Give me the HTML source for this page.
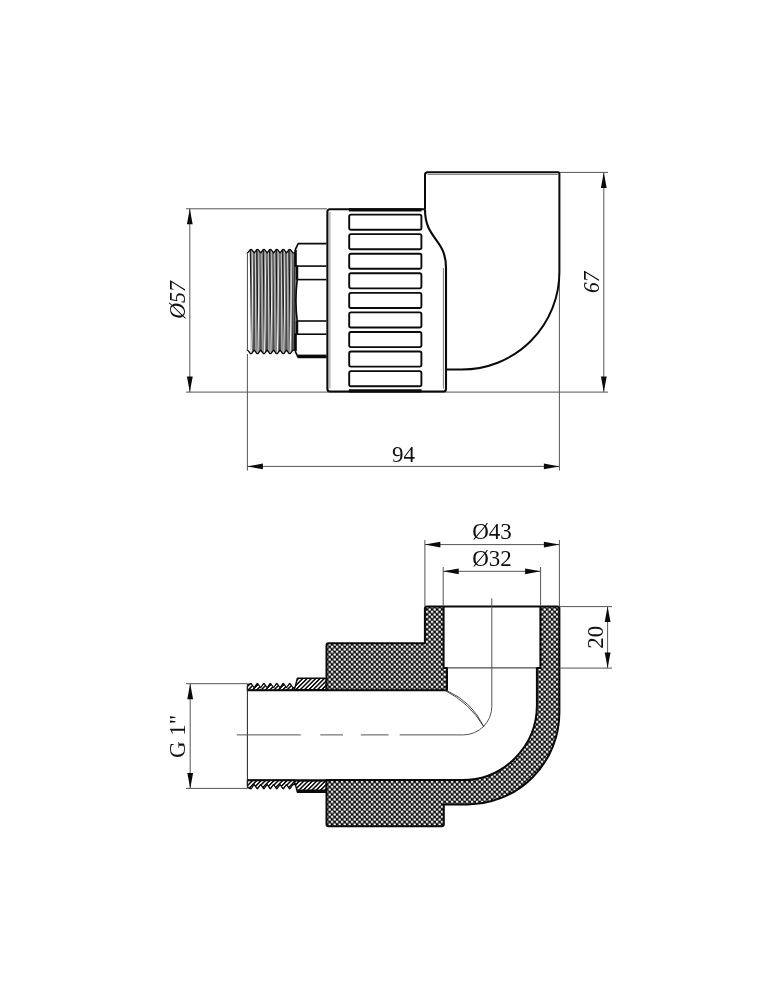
<!DOCTYPE html>
<html><head><meta charset="utf-8"><title>drawing</title>
<style>
html,body{margin:0;padding:0;background:#fff;}
body{width:771px;height:1000px;overflow:hidden;}
svg{display:block;will-change:transform;}
text{font-family:"Liberation Serif",serif;fill:#111;}
</style></head><body>
<svg width="771" height="1000" viewBox="0 0 771 1000">
<rect width="771" height="1000" fill="#fff"/>
<line x1="186" y1="208.8" x2="327" y2="208.8" stroke="#555" stroke-width="1.0" />
<line x1="186" y1="392.1" x2="608" y2="392.1" stroke="#555" stroke-width="1.0" />
<line x1="189.8" y1="208.8" x2="189.8" y2="392.1" stroke="#555" stroke-width="1.0" />
<polygon points="189.8,208.8 192.70,224.30 186.90,224.30" fill="#0a0a0a"/>
<polygon points="189.8,392.1 186.90,376.60 192.70,376.60" fill="#0a0a0a"/>
<text x="0" y="0" font-size="23" text-anchor="middle" font-style="italic" transform="translate(185.0 300) rotate(-90) scale(0.95 1)">Ø57</text>
<line x1="559.4" y1="172.4" x2="608" y2="172.4" stroke="#555" stroke-width="1.0" />
<line x1="603.8" y1="172.4" x2="603.8" y2="392.1" stroke="#555" stroke-width="1.0" />
<polygon points="603.8,172.4 606.70,187.90 600.90,187.90" fill="#0a0a0a"/>
<polygon points="603.8,392.1 600.90,376.60 606.70,376.60" fill="#0a0a0a"/>
<text x="0" y="0" font-size="23" text-anchor="middle" font-style="italic" transform="translate(598.8 282.3) rotate(-90) scale(0.93 1)">67</text>
<line x1="247.4" y1="354" x2="247.4" y2="470.5" stroke="#555" stroke-width="1.0" />
<line x1="559.4" y1="273" x2="559.4" y2="470.5" stroke="#555" stroke-width="1.0" />
<line x1="247.4" y1="466.4" x2="559.4" y2="466.4" stroke="#555" stroke-width="1.0" />
<polygon points="247.4,466.4 262.90,463.50 262.90,469.30" fill="#0a0a0a"/>
<polygon points="559.4,466.4 543.90,469.30 543.90,463.50" fill="#0a0a0a"/>
<text x="0" y="0" font-size="23" text-anchor="middle"  transform="translate(403.4 461.7)">94</text>
<path d="M247.3,349.9 L247.3,253.1 L249.5,250.7 L250.10,249.8 Q251.00,248.9 251.90,249.8 L254.30,252.9 L256.55,249.8 Q257.45,248.9 258.35,249.8 L260.75,252.9 L263.00,249.8 Q263.90,248.9 264.80,249.8 L267.20,252.9 L269.45,249.8 Q270.35,248.9 271.25,249.8 L273.65,252.9 L275.90,249.8 Q276.80,248.9 277.70,249.8 L280.10,252.9 L282.35,249.8 Q283.25,248.9 284.15,249.8 L286.55,252.9 L288.80,249.8 Q289.70,248.9 290.60,249.8 L293.00,252.9 L294.9,252.9 L294.9,350.1 L293.00,350.1 L290.60,353.2 Q289.70,354.1 288.80,353.2 L286.55,350.1 L284.15,353.2 Q283.25,354.1 282.35,353.2 L280.10,350.1 L277.70,353.2 Q276.80,354.1 275.90,353.2 L273.65,350.1 L271.25,353.2 Q270.35,354.1 269.45,353.2 L267.20,350.1 L264.80,353.2 Q263.90,354.1 263.00,353.2 L260.75,350.1 L258.35,353.2 Q257.45,354.1 256.55,353.2 L254.30,350.1 L251.90,353.2 Q251.00,354.1 250.10,353.2 L249.5,352.3 Z" fill="#909090" stroke="none"/>
<clipPath id="thc"><path d="M247.3,349.9 L247.3,253.1 L249.5,250.7 L250.10,249.8 Q251.00,248.9 251.90,249.8 L254.30,252.9 L256.55,249.8 Q257.45,248.9 258.35,249.8 L260.75,252.9 L263.00,249.8 Q263.90,248.9 264.80,249.8 L267.20,252.9 L269.45,249.8 Q270.35,248.9 271.25,249.8 L273.65,252.9 L275.90,249.8 Q276.80,248.9 277.70,249.8 L280.10,252.9 L282.35,249.8 Q283.25,248.9 284.15,249.8 L286.55,252.9 L288.80,249.8 Q289.70,248.9 290.60,249.8 L293.00,252.9 L294.9,252.9 L294.9,350.1 L293.00,350.1 L290.60,353.2 Q289.70,354.1 288.80,353.2 L286.55,350.1 L284.15,353.2 Q283.25,354.1 282.35,353.2 L280.10,350.1 L277.70,353.2 Q276.80,354.1 275.90,353.2 L273.65,350.1 L271.25,353.2 Q270.35,354.1 269.45,353.2 L267.20,350.1 L264.80,353.2 Q263.90,354.1 263.00,353.2 L260.75,350.1 L258.35,353.2 Q257.45,354.1 256.55,353.2 L254.30,350.1 L251.90,353.2 Q251.00,354.1 250.10,353.2 L249.5,352.3 Z"/></clipPath>
<g clip-path="url(#thc)">
<rect x="247.3" y="249.5" width="3.4" height="104.0" fill="#fff"/>
<line x1="250.3" y1="249.5" x2="251.9" y2="353.5" stroke="#1c1c1c" stroke-width="1.2" />
<line x1="252.9" y1="249.5" x2="251.6" y2="353.5" stroke="#f4f4f4" stroke-width="1.0" />
<line x1="253.2" y1="249.5" x2="254.8" y2="353.5" stroke="#4a4a4a" stroke-width="0.9" />
<line x1="255.0" y1="249.5" x2="253.6" y2="353.5" stroke="#333" stroke-width="0.9" />
<line x1="255.3" y1="249.5" x2="256.2" y2="353.5" stroke="#dcdcdc" stroke-width="0.9" />
<line x1="257.0" y1="249.5" x2="256.2" y2="353.5" stroke="#666" stroke-width="0.7" />
<line x1="256.75" y1="249.5" x2="258.34999999999997" y2="353.5" stroke="#1c1c1c" stroke-width="1.2" />
<line x1="259.34999999999997" y1="249.5" x2="258.05" y2="353.5" stroke="#f4f4f4" stroke-width="1.0" />
<line x1="259.65" y1="249.5" x2="261.25" y2="353.5" stroke="#4a4a4a" stroke-width="0.9" />
<line x1="261.45" y1="249.5" x2="260.05" y2="353.5" stroke="#333" stroke-width="0.9" />
<line x1="261.75" y1="249.5" x2="262.65" y2="353.5" stroke="#dcdcdc" stroke-width="0.9" />
<line x1="263.45" y1="249.5" x2="262.65" y2="353.5" stroke="#666" stroke-width="0.7" />
<line x1="263.2" y1="249.5" x2="264.79999999999995" y2="353.5" stroke="#1c1c1c" stroke-width="1.2" />
<line x1="265.79999999999995" y1="249.5" x2="264.5" y2="353.5" stroke="#f4f4f4" stroke-width="1.0" />
<line x1="266.09999999999997" y1="249.5" x2="267.7" y2="353.5" stroke="#4a4a4a" stroke-width="0.9" />
<line x1="267.9" y1="249.5" x2="266.5" y2="353.5" stroke="#333" stroke-width="0.9" />
<line x1="268.2" y1="249.5" x2="269.09999999999997" y2="353.5" stroke="#dcdcdc" stroke-width="0.9" />
<line x1="269.9" y1="249.5" x2="269.09999999999997" y2="353.5" stroke="#666" stroke-width="0.7" />
<line x1="269.65000000000003" y1="249.5" x2="271.25" y2="353.5" stroke="#1c1c1c" stroke-width="1.2" />
<line x1="272.25" y1="249.5" x2="270.95000000000005" y2="353.5" stroke="#f4f4f4" stroke-width="1.0" />
<line x1="272.55" y1="249.5" x2="274.15000000000003" y2="353.5" stroke="#4a4a4a" stroke-width="0.9" />
<line x1="274.35" y1="249.5" x2="272.95000000000005" y2="353.5" stroke="#333" stroke-width="0.9" />
<line x1="274.65000000000003" y1="249.5" x2="275.55" y2="353.5" stroke="#dcdcdc" stroke-width="0.9" />
<line x1="276.35" y1="249.5" x2="275.55" y2="353.5" stroke="#666" stroke-width="0.7" />
<line x1="276.1" y1="249.5" x2="277.7" y2="353.5" stroke="#1c1c1c" stroke-width="1.2" />
<line x1="278.7" y1="249.5" x2="277.40000000000003" y2="353.5" stroke="#f4f4f4" stroke-width="1.0" />
<line x1="279.0" y1="249.5" x2="280.6" y2="353.5" stroke="#4a4a4a" stroke-width="0.9" />
<line x1="280.8" y1="249.5" x2="279.40000000000003" y2="353.5" stroke="#333" stroke-width="0.9" />
<line x1="281.1" y1="249.5" x2="282.0" y2="353.5" stroke="#dcdcdc" stroke-width="0.9" />
<line x1="282.8" y1="249.5" x2="282.0" y2="353.5" stroke="#666" stroke-width="0.7" />
<line x1="282.55" y1="249.5" x2="284.15" y2="353.5" stroke="#1c1c1c" stroke-width="1.2" />
<line x1="285.15" y1="249.5" x2="283.85" y2="353.5" stroke="#f4f4f4" stroke-width="1.0" />
<line x1="285.45" y1="249.5" x2="287.05" y2="353.5" stroke="#4a4a4a" stroke-width="0.9" />
<line x1="287.25" y1="249.5" x2="285.85" y2="353.5" stroke="#333" stroke-width="0.9" />
<line x1="287.55" y1="249.5" x2="288.45" y2="353.5" stroke="#dcdcdc" stroke-width="0.9" />
<line x1="289.25" y1="249.5" x2="288.45" y2="353.5" stroke="#666" stroke-width="0.7" />
<line x1="289.0" y1="249.5" x2="290.59999999999997" y2="353.5" stroke="#1c1c1c" stroke-width="1.2" />
<line x1="291.59999999999997" y1="249.5" x2="290.3" y2="353.5" stroke="#f4f4f4" stroke-width="1.0" />
<line x1="291.9" y1="249.5" x2="293.5" y2="353.5" stroke="#4a4a4a" stroke-width="0.9" />
<line x1="293.7" y1="249.5" x2="292.3" y2="353.5" stroke="#333" stroke-width="0.9" />
<line x1="294.0" y1="249.5" x2="294.9" y2="353.5" stroke="#dcdcdc" stroke-width="0.9" />
<line x1="295.7" y1="249.5" x2="294.9" y2="353.5" stroke="#666" stroke-width="0.7" />
</g>
<path d="M247.3,349.9 L247.3,253.1 L249.5,250.7 L250.10,249.8 Q251.00,248.9 251.90,249.8 L254.30,252.9 L256.55,249.8 Q257.45,248.9 258.35,249.8 L260.75,252.9 L263.00,249.8 Q263.90,248.9 264.80,249.8 L267.20,252.9 L269.45,249.8 Q270.35,248.9 271.25,249.8 L273.65,252.9 L275.90,249.8 Q276.80,248.9 277.70,249.8 L280.10,252.9 L282.35,249.8 Q283.25,248.9 284.15,249.8 L286.55,252.9 L288.80,249.8 Q289.70,248.9 290.60,249.8 L293.00,252.9 L294.9,252.9 L294.9,350.1 L293.00,350.1 L290.60,353.2 Q289.70,354.1 288.80,353.2 L286.55,350.1 L284.15,353.2 Q283.25,354.1 282.35,353.2 L280.10,350.1 L277.70,353.2 Q276.80,354.1 275.90,353.2 L273.65,350.1 L271.25,353.2 Q270.35,354.1 269.45,353.2 L267.20,350.1 L264.80,353.2 Q263.90,354.1 263.00,353.2 L260.75,350.1 L258.35,353.2 Q257.45,354.1 256.55,353.2 L254.30,350.1 L251.90,353.2 Q251.00,354.1 250.10,353.2 L249.5,352.3 Z" fill="none" stroke="#0a0a0a" stroke-width="1.3" stroke-linejoin="round"/>
<line x1="247.3" y1="253.7" x2="247.3" y2="349.3" stroke="#fff" stroke-width="2.2" />
<line x1="247.5" y1="252.9" x2="247.5" y2="350.1" stroke="#5a5a5a" stroke-width="1.0" />
<path d="M326.5,243.7 L298.2,243.7 L295.5,249.1 L295.5,266.1 L297.2,266.1 L297.2,279.6 Q294.6,300.5 297.2,321 L297.2,334.2 L295.5,334.2 L295.5,351.90000000000003 L298.2,357.3 L326.5,357.3" fill="#fff" stroke="#0a0a0a" stroke-width="1.7" stroke-linejoin="round"/>
<line x1="296.5" y1="266.1" x2="326.5" y2="266.1" stroke="#0a0a0a" stroke-width="1.6" />
<line x1="296.5" y1="279.6" x2="326.5" y2="279.6" stroke="#0a0a0a" stroke-width="1.6" />
<line x1="296.5" y1="321.0" x2="326.5" y2="321.0" stroke="#0a0a0a" stroke-width="1.6" />
<line x1="296.5" y1="334.2" x2="326.5" y2="334.2" stroke="#0a0a0a" stroke-width="1.6" />
<line x1="298" y1="356.1" x2="326.5" y2="356.1" stroke="#0a0a0a" stroke-width="3.0" />
<line x1="297.0" y1="266" x2="297.0" y2="279.6" stroke="#0a0a0a" stroke-width="2.4" />
<line x1="297.0" y1="321" x2="297.0" y2="334.2" stroke="#0a0a0a" stroke-width="2.4" />
<line x1="295.6" y1="250" x2="295.6" y2="266" stroke="#0a0a0a" stroke-width="2.2" />
<line x1="295.6" y1="334" x2="295.6" y2="351" stroke="#0a0a0a" stroke-width="2.2" />
<path d="M425.0,209 L425.0,174.65 Q425.0,172.15 427.5,172.15 L557.9,172.15 Q559.4,172.15 559.4,173.65 L559.4,272.0 A97.6,97.6 0 0 1 461.79999999999995,369.6 L446,369.6" fill="none" stroke="#0a0a0a" stroke-width="2"/>
<line x1="427.5" y1="174.5" x2="557.8" y2="174.5" stroke="#666" stroke-width="0.8" />
<path d="M425.0,209.2 L329.9,209.2 Q327.4,209.2 327.4,211.7 L327.4,389.0 Q327.4,391.5 329.9,391.5 L443.5,391.5 Q446.0,391.5 446.0,389.0 L446.0,268 C446.0,238 425.0,240 425.0,209.2" fill="none" stroke="#0a0a0a" stroke-width="2.1" stroke-linejoin="round"/>
<line x1="329.9" y1="212" x2="329.9" y2="388.5" stroke="#777" stroke-width="0.8" />
<line x1="443.4" y1="268" x2="443.4" y2="388.5" stroke="#555" stroke-width="0.8" />
<line x1="348.8" y1="209.79999999999998" x2="421.6" y2="209.79999999999998" stroke="#0a0a0a" stroke-width="3.2" />
<line x1="348.8" y1="390.9" x2="421.6" y2="390.9" stroke="#0a0a0a" stroke-width="3.2" />
<rect x="349.2" y="214.60" width="72.2" height="15.1" rx="1.8" fill="none" stroke="#0a0a0a" stroke-width="1.9"/>
<rect x="349.2" y="234.16" width="72.2" height="15.1" rx="1.8" fill="none" stroke="#0a0a0a" stroke-width="1.9"/>
<rect x="349.2" y="253.72" width="72.2" height="15.1" rx="1.8" fill="none" stroke="#0a0a0a" stroke-width="1.9"/>
<rect x="349.2" y="273.29" width="72.2" height="15.1" rx="1.8" fill="none" stroke="#0a0a0a" stroke-width="1.9"/>
<rect x="349.2" y="292.85" width="72.2" height="15.1" rx="1.8" fill="none" stroke="#0a0a0a" stroke-width="1.9"/>
<rect x="349.2" y="312.41" width="72.2" height="15.1" rx="1.8" fill="none" stroke="#0a0a0a" stroke-width="1.9"/>
<rect x="349.2" y="331.98" width="72.2" height="15.1" rx="1.8" fill="none" stroke="#0a0a0a" stroke-width="1.9"/>
<rect x="349.2" y="351.54" width="72.2" height="15.1" rx="1.8" fill="none" stroke="#0a0a0a" stroke-width="1.9"/>
<rect x="349.2" y="371.10" width="72.2" height="15.1" rx="1.8" fill="none" stroke="#0a0a0a" stroke-width="1.9"/>
<defs>
<pattern id="xh" width="5" height="5" patternUnits="userSpaceOnUse" patternTransform="translate(0.85 0.65)">
<rect width="5" height="5" fill="#000"/>
<circle cx="1.25" cy="1.25" r="1.32" fill="#fff"/><circle cx="3.75" cy="3.75" r="1.32" fill="#fff"/>
</pattern>
<pattern id="ht" width="3.05" height="3.05" patternUnits="userSpaceOnUse" patternTransform="rotate(-45 0 0)">
<rect width="3.05" height="3.05" fill="#fff"/>
<path d="M-1,1.525H4.05" stroke="#000" stroke-width="1.45"/>
</pattern>
</defs>
<path d="M424.9,608.5 Q424.9,606.5 426.9,606.5 L557.4,606.5 Q559.4,606.5 559.4,608.5 L559.4,712.4 A92.0,92.0 0 0 1 467.4,804.4 L443.8,804.4 L443.8,824.3 Q443.8,826.3 441.8,826.3 L328.5,826.3 Q326.5,826.3 326.5,824.3 L326.5,780.1 L462.15,780.1 A74.75,74.75 0 0 0 536.9,705.35 L536.9,667.9 L540.4,667.9 L540.4,606.5 L443.6,606.5 L443.6,667.9 L447,667.9 L447,690.3 L326.5,690.3 L326.5,645.3 Q326.5,643.3 328.5,643.3 L424.9,643.3 Z" fill="url(#xh)" stroke="#0a0a0a" stroke-width="2" stroke-linejoin="round" fill-rule="evenodd"/>
<path d="M294.4,689.6 L297.4,678.3 L326,678.3 L326,689.6 Z" fill="url(#ht)" stroke="#0a0a0a" stroke-width="1.4" stroke-linejoin="round"/>
<path d="M294.4,780.9 L297.4,792.2 L326,792.2 L326,780.9 Z" fill="url(#ht)" stroke="#0a0a0a" stroke-width="1.4" stroke-linejoin="round"/>
<line x1="297" y1="791" x2="326" y2="791" stroke="#0a0a0a" stroke-width="3.0" />
<path d="M247.4,690.3 L247.4,686.4 Q247.9,683.8000000000001 250.50,683.6 L250.40,683.80 Q250.90,683.10 251.40,683.80 L254.00,687.50 L254.30,687.50 L256.87,683.80 Q257.37,683.10 257.87,683.80 L260.47,687.50 L260.77,687.50 L263.34,683.80 Q263.84,683.10 264.34,683.80 L266.94,687.50 L267.24,687.50 L269.81,683.80 Q270.31,683.10 270.81,683.80 L273.41,687.50 L273.71,687.50 L276.28,683.80 Q276.78,683.10 277.28,683.80 L279.88,687.50 L280.18,687.50 L282.75,683.80 Q283.25,683.10 283.75,683.80 L286.35,687.50 L286.65,687.50 L289.22,683.80 Q289.72,683.10 290.22,683.80 L292.82,687.50 L294.4,687.5 L294.4,690.3 Z" fill="url(#ht)" stroke="#0a0a0a" stroke-width="1.25" stroke-linejoin="round"/>
<path d="M247.4,780.2 L247.4,785.8000000000001 Q247.9,788.4 250.50,788.6 L250.40,788.40 Q250.90,789.10 251.40,788.40 L254.00,784.70 L254.30,784.70 L256.87,788.40 Q257.37,789.10 257.87,788.40 L260.47,784.70 L260.77,784.70 L263.34,788.40 Q263.84,789.10 264.34,788.40 L266.94,784.70 L267.24,784.70 L269.81,788.40 Q270.31,789.10 270.81,788.40 L273.41,784.70 L273.71,784.70 L276.28,788.40 Q276.78,789.10 277.28,788.40 L279.88,784.70 L280.18,784.70 L282.75,788.40 Q283.25,789.10 283.75,788.40 L286.35,784.70 L286.65,784.70 L289.22,788.40 Q289.72,789.10 290.22,788.40 L292.82,784.70 L294.4,784.7 L294.4,780.2 Z" fill="url(#ht)" stroke="#0a0a0a" stroke-width="1.25" stroke-linejoin="round"/>
<line x1="247.4" y1="690.3" x2="326.5" y2="690.3" stroke="#0a0a0a" stroke-width="2" />
<line x1="247.4" y1="780.2" x2="326.5" y2="780.2" stroke="#0a0a0a" stroke-width="2" />
<line x1="247.4" y1="683.5" x2="247.4" y2="788.5" stroke="#222" stroke-width="1.0" />
<line x1="447" y1="667.9" x2="536.9" y2="667.9" stroke="#222" stroke-width="1.0" />
<path d="M491.8,598.5 L491.8,706.4 A28.5,28.5 0 0 1 463.3,734.9 L399.7,734.9" fill="none" stroke="#555" stroke-width="1.0"/>
<line x1="360.8" y1="734.9" x2="388.6" y2="734.9" stroke="#555" stroke-width="1.0" />
<line x1="320.3" y1="734.9" x2="343" y2="734.9" stroke="#555" stroke-width="1.0" />
<line x1="236.9" y1="734.9" x2="300.7" y2="734.9" stroke="#555" stroke-width="1.0" />
<path d="M445.3,690.6 Q469.3,702.8 483.8,726.6" fill="none" stroke="#222" stroke-width="0.8"/>
<path d="M446.8,690.6 Q471.8,701.6 483.8,726.6" fill="none" stroke="#222" stroke-width="0.8"/>
<line x1="424.9" y1="606" x2="424.9" y2="540" stroke="#555" stroke-width="1.0" />
<line x1="559.4" y1="606" x2="559.4" y2="540" stroke="#555" stroke-width="1.0" />
<line x1="424.9" y1="544.6" x2="559.4" y2="544.6" stroke="#555" stroke-width="1.0" />
<polygon points="424.9,544.6 440.40,541.70 440.40,547.50" fill="#0a0a0a"/>
<polygon points="559.4,544.6 543.90,547.50 543.90,541.70" fill="#0a0a0a"/>
<text x="0" y="0" font-size="23" text-anchor="middle"  transform="translate(492 539.2)">Ø43</text>
<line x1="443.2" y1="606" x2="443.2" y2="567" stroke="#555" stroke-width="1.0" />
<line x1="540.6" y1="606" x2="540.6" y2="567" stroke="#555" stroke-width="1.0" />
<line x1="443.2" y1="571.3" x2="540.6" y2="571.3" stroke="#555" stroke-width="1.0" />
<polygon points="443.2,571.3 458.70,568.40 458.70,574.20" fill="#0a0a0a"/>
<polygon points="540.6,571.3 525.10,574.20 525.10,568.40" fill="#0a0a0a"/>
<text x="0" y="0" font-size="23" text-anchor="middle"  transform="translate(492 566)">Ø32</text>
<line x1="559.4" y1="606.6" x2="612" y2="606.6" stroke="#555" stroke-width="1.0" />
<line x1="559.4" y1="668.1" x2="612" y2="668.1" stroke="#555" stroke-width="1.0" />
<line x1="607.6" y1="606.6" x2="607.6" y2="668.1" stroke="#555" stroke-width="1.0" />
<polygon points="607.6,606.6 610.50,622.10 604.70,622.10" fill="#0a0a0a"/>
<polygon points="607.6,668.1 604.70,652.60 610.50,652.60" fill="#0a0a0a"/>
<text x="0" y="0" font-size="23" text-anchor="middle"  transform="translate(602.6 637.3) rotate(-90)">20</text>
<line x1="186" y1="683.7" x2="247.4" y2="683.7" stroke="#555" stroke-width="1.0" />
<line x1="186" y1="788.4" x2="247.4" y2="788.4" stroke="#555" stroke-width="1.0" />
<line x1="190.2" y1="683.7" x2="190.2" y2="788.4" stroke="#555" stroke-width="1.0" />
<polygon points="190.2,683.7 193.10,699.20 187.30,699.20" fill="#0a0a0a"/>
<polygon points="190.2,788.4 187.30,772.90 193.10,772.90" fill="#0a0a0a"/>
<text x="0" y="0" font-size="23" text-anchor="middle"  transform="translate(185.2 736.4) rotate(-90)">G 1"</text>
</svg>
</body></html>
